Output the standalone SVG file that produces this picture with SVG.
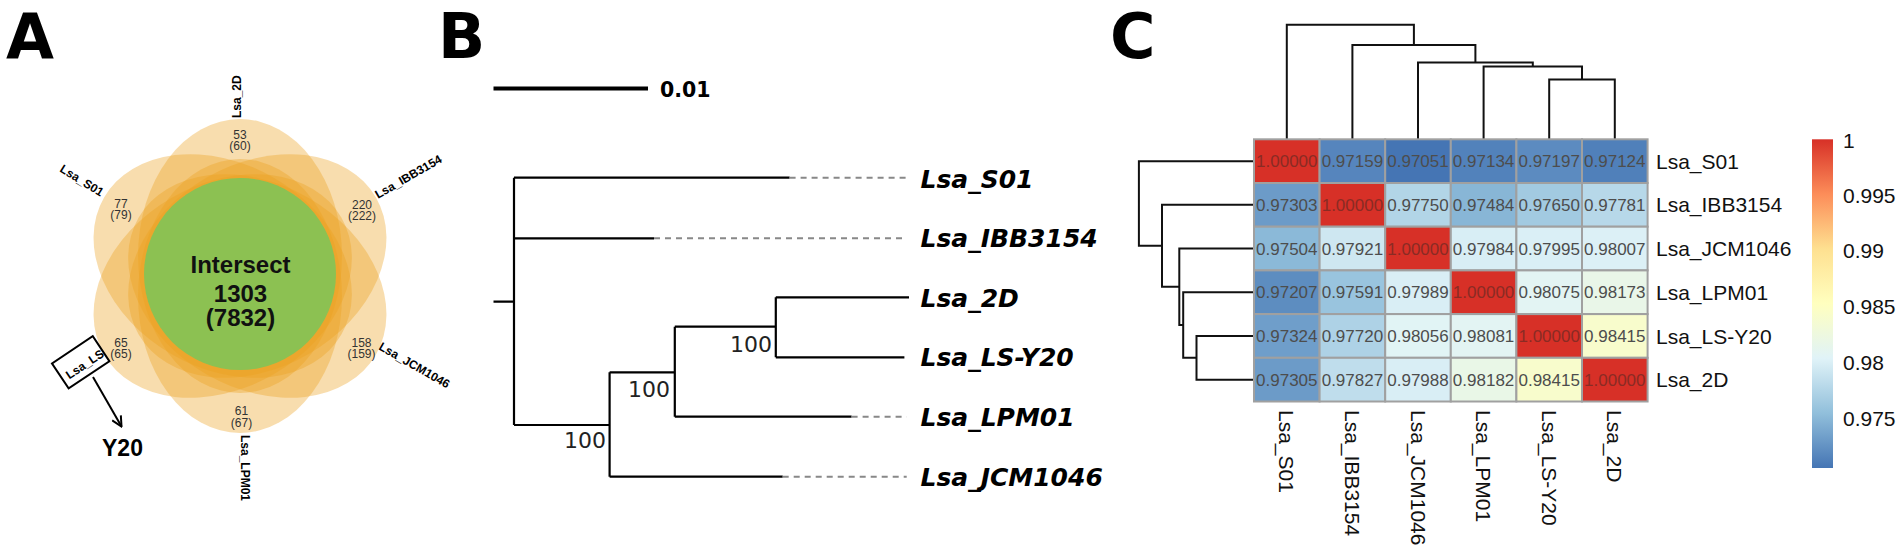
<svg xmlns="http://www.w3.org/2000/svg" width="1902" height="554" viewBox="0 0 1902 554">
<style>
.plabel{font-family:"DejaVu Sans","Open Sans",sans-serif;font-weight:700;font-size:62px;fill:#000}
.petal{fill:#ECA01E;fill-opacity:0.36}
.vnum{font-family:"Liberation Sans",Arial,sans-serif;font-size:12px;fill:#333;text-anchor:middle}
.vset{font-family:"Liberation Sans",Arial,sans-serif;font-size:12px;font-weight:700;fill:#000}
.vbig{font-family:"Liberation Sans",Arial,sans-serif;font-size:24px;font-weight:700;fill:#111;text-anchor:middle}
.tree{fill:none;stroke:#000;stroke-width:2.2}
.dash{fill:none;stroke:#888;stroke-width:2;stroke-dasharray:6 5}
.leaf{font-family:"DejaVu Sans",sans-serif;font-size:25px;font-weight:700;font-style:italic;fill:#000}
.boot{font-family:"DejaVu Sans",sans-serif;font-size:22px;fill:#222;text-anchor:end}
.cell{stroke:#A0A0A0;stroke-width:2}
.num{font-family:"Liberation Sans",Arial,sans-serif;font-size:17px;fill:#4d4d4d;text-anchor:middle}
.numr{fill:#8a2b24}
.lab{font-family:"Liberation Sans",Arial,sans-serif;font-size:21px;fill:#111}
.dendro{fill:none;stroke:#111;stroke-width:2}
</style>
<defs>
<marker id="openArrow" viewBox="0 0 12 12" refX="11" refY="6" markerWidth="12" markerHeight="12" markerUnits="userSpaceOnUse" orient="auto">
<path d="M1,1 L11,6 L1,11" fill="none" stroke="#000" stroke-width="2"/>
</marker>
<linearGradient id="cbar" x1="0" y1="0" x2="0" y2="1">
<stop offset="0" stop-color="#D73027"/>
<stop offset="0.1667" stop-color="#FC8D59"/>
<stop offset="0.3333" stop-color="#FEE090"/>
<stop offset="0.5" stop-color="#FFFFBF"/>
<stop offset="0.6667" stop-color="#E0F3F8"/>
<stop offset="0.8333" stop-color="#91BFDB"/>
<stop offset="1" stop-color="#4575B4"/>
</linearGradient>
</defs>
<rect x="0" y="0" width="1902" height="554" fill="#fff"/>

<!-- Panel labels -->
<text id="label-A" class="plabel" x="6" y="58">A</text>
<text id="label-B" class="plabel" x="438" y="58">B</text>
<text id="label-C" class="plabel" x="1110" y="58">C</text>

<!-- ===== Panel A: Venn ===== -->
<g id="venn">
<g id="petals">
<ellipse class="petal" cx="0" cy="0" rx="137" ry="102" transform="translate(240,256) rotate(-90)"/>
<ellipse class="petal" cx="0" cy="0" rx="137" ry="102" transform="translate(257.3,266) rotate(-30)"/>
<ellipse class="petal" cx="0" cy="0" rx="137" ry="102" transform="translate(257.3,286) rotate(30)"/>
<ellipse class="petal" cx="0" cy="0" rx="137" ry="102" transform="translate(240,296) rotate(90)"/>
<ellipse class="petal" cx="0" cy="0" rx="137" ry="102" transform="translate(222.7,286) rotate(150)"/>
<ellipse class="petal" cx="0" cy="0" rx="137" ry="102" transform="translate(222.7,266) rotate(210)"/>
</g>
<g id="intersect">
<circle cx="240" cy="274" r="96" fill="#8CC152"/>
<text class="vbig" x="240.5" y="273">Intersect</text>
<text class="vbig" x="240.5" y="302">1303</text>
<text class="vbig" x="240.5" y="326">(7832)</text>
</g>
<g id="set-2D">
<text class="vnum" x="240" y="139">53</text>
<text class="vnum" x="240" y="150">(60)</text>
<text class="vset" transform="translate(241,118) rotate(-90)">Lsa_2D</text>
</g>
<g id="set-IBB3154">
<text class="vnum" x="362" y="209">220</text>
<text class="vnum" x="362" y="220">(222)</text>
<text class="vset" transform="translate(378,199) rotate(-30)">Lsa_IBB3154</text>
</g>
<g id="set-JCM1046">
<text class="vnum" x="361.5" y="347">158</text>
<text class="vnum" x="361.5" y="358">(159)</text>
<text class="vset" transform="translate(378,349) rotate(30)">Lsa_JCM1046</text>
</g>
<g id="set-LPM01">
<text class="vnum" x="241.5" y="415">61</text>
<text class="vnum" x="241.5" y="427">(67)</text>
<text class="vset" transform="translate(241,435) rotate(90)">Lsa_LPM01</text>
</g>
<g id="set-S01">
<text class="vnum" x="121" y="208">77</text>
<text class="vnum" x="121" y="219">(79)</text>
<text class="vset" transform="translate(59,171) rotate(32)">Lsa_S01</text>
</g>
<g id="set-LS">
<text class="vnum" x="121" y="347">65</text>
<text class="vnum" x="121" y="358">(65)</text>
<g transform="translate(80.7,362.3) rotate(-33.7)">
<rect x="-24.5" y="-15" width="49" height="30" fill="#fff" stroke="#000" stroke-width="2"/>
<text class="vset" x="-19" y="8">Lsa_LS</text>
</g>
</g>
<g id="connectors-A">
<line x1="93" y1="377" x2="121.5" y2="426.5" stroke="#000" stroke-width="2" marker-end="url(#openArrow)"/>
</g>
<text id="Y20" x="102" y="456" font-family="Liberation Sans, Arial, sans-serif" font-size="23" font-weight="700" fill="#000">Y20</text>
</g>

<!-- ===== Panel B: tree ===== -->
<g id="tree">
<g id="scalebar">
<line x1="493.5" y1="88.5" x2="648" y2="88.5" stroke="#000" stroke-width="4"/>
<text x="660" y="97" font-family="DejaVu Sans, sans-serif" font-size="20.5" font-weight="700" fill="#000">0.01</text>
</g>
<g id="tree-branches">
<path class="tree" d="M493.5,301.7 H514 M514,177.7 V425 M514,177.7 H789.6 M514,238.3 H654 M514,425 H609.6 M609.6,372.3 V476.7 M609.6,476.7 H782.7 M609.6,372.3 H674.8 M674.8,326.7 V416.7 M674.8,416.7 H851.6 M674.8,326.7 H775.8 M775.8,297.3 V357.3 M775.8,297.3 H909 M775.8,357.3 H904.4"/>
<path class="dash" d="M789.6,177.7 H906.7 M654,238.3 H906.7 M782.7,476.7 H906.7 M851.6,416.7 H906.7"/>
</g>
<g id="bootstrap">
<text class="boot" x="772" y="352">100</text>
<text class="boot" x="670" y="397">100</text>
<text class="boot" x="606" y="448">100</text>
</g>
<g id="leaves">
<text class="leaf" x="920.5" y="188.3">Lsa_S01</text>
<text class="leaf" x="920.5" y="247.3">Lsa_IBB3154</text>
<text class="leaf" x="920.5" y="306.7">Lsa_2D</text>
<text class="leaf" x="920.5" y="366">Lsa_LS-Y20</text>
<text class="leaf" x="920.5" y="426">Lsa_LPM01</text>
<text class="leaf" x="920.5" y="485.7">Lsa_JCM1046</text>
</g>
</g>

<!-- ===== Panel C: heatmap ===== -->
<g id="heatmap">
<g id="dendro-top">
<path class="dendro" d="M1549.2,139.3 V79.5 H1614.8 V139.3 M1483.6,139.3 V66.4 H1582 V79.5 M1418,139.3 V62.5 H1532.8 V66.4 M1352.4,139.3 V45 H1475.4 V62.5 M1286.8,139.3 V24.7 H1413.9 V45"/>
</g>
<g id="dendro-left">
<path class="dendro" d="M1254,335.95 H1196.5 V379.65 H1254 M1254,292.25 H1183.2 V357.8 H1196.5 M1254,248.55 H1179.3 V325 H1183.2 M1254,204.85 H1162 V286.8 H1179.3 M1254,161.15 H1138.9 V245.8 H1162"/>
</g>
<g id="cells">
<rect class="cell" x="1254" y="139.3" width="65.6" height="43.7" fill="#D73027"/>
<rect class="cell" x="1319.6" y="139.3" width="65.6" height="43.7" fill="#5685BD"/>
<rect class="cell" x="1385.2" y="139.3" width="65.6" height="43.7" fill="#4575B4"/>
<rect class="cell" x="1450.8" y="139.3" width="65.6" height="43.7" fill="#5282BB"/>
<rect class="cell" x="1516.4" y="139.3" width="65.6" height="43.7" fill="#5C8BC0"/>
<rect class="cell" x="1582" y="139.3" width="65.6" height="43.7" fill="#5080BA"/>

<rect class="cell" x="1254" y="183" width="65.6" height="43.7" fill="#6C9BC8"/>
<rect class="cell" x="1319.6" y="183" width="65.6" height="43.7" fill="#D73027"/>
<rect class="cell" x="1385.2" y="183" width="65.6" height="43.7" fill="#B2D5E7"/>
<rect class="cell" x="1450.8" y="183" width="65.6" height="43.7" fill="#88B6D6"/>
<rect class="cell" x="1516.4" y="183" width="65.6" height="43.7" fill="#A2CAE1"/>
<rect class="cell" x="1582" y="183" width="65.6" height="43.7" fill="#B7D8E9"/>

<rect class="cell" x="1254" y="226.7" width="65.6" height="43.7" fill="#8BB9D8"/>
<rect class="cell" x="1319.6" y="226.7" width="65.6" height="43.7" fill="#CEE7F1"/>
<rect class="cell" x="1385.2" y="226.7" width="65.6" height="43.7" fill="#D73027"/>
<rect class="cell" x="1450.8" y="226.7" width="65.6" height="43.7" fill="#D8EEF5"/>
<rect class="cell" x="1516.4" y="226.7" width="65.6" height="43.7" fill="#DAEFF6"/>
<rect class="cell" x="1582" y="226.7" width="65.6" height="43.7" fill="#DCF0F6"/>

<rect class="cell" x="1254" y="270.4" width="65.6" height="43.7" fill="#5D8DC0"/>
<rect class="cell" x="1319.6" y="270.4" width="65.6" height="43.7" fill="#99C4DE"/>
<rect class="cell" x="1385.2" y="270.4" width="65.6" height="43.7" fill="#D9EEF5"/>
<rect class="cell" x="1450.8" y="270.4" width="65.6" height="43.7" fill="#D73027"/>
<rect class="cell" x="1516.4" y="270.4" width="65.6" height="43.7" fill="#E3F4F3"/>
<rect class="cell" x="1582" y="270.4" width="65.6" height="43.7" fill="#E9F6E8"/>

<rect class="cell" x="1254" y="314.1" width="65.6" height="43.7" fill="#6F9ECA"/>
<rect class="cell" x="1319.6" y="314.1" width="65.6" height="43.7" fill="#AED2E6"/>
<rect class="cell" x="1385.2" y="314.1" width="65.6" height="43.7" fill="#E1F4F5"/>
<rect class="cell" x="1450.8" y="314.1" width="65.6" height="43.7" fill="#E3F4F3"/>
<rect class="cell" x="1516.4" y="314.1" width="65.6" height="43.7" fill="#D73027"/>
<rect class="cell" x="1582" y="314.1" width="65.6" height="43.7" fill="#F8FCCC"/>

<rect class="cell" x="1254" y="357.8" width="65.6" height="43.7" fill="#6C9BC8"/>
<rect class="cell" x="1319.6" y="357.8" width="65.6" height="43.7" fill="#BFDDEC"/>
<rect class="cell" x="1385.2" y="357.8" width="65.6" height="43.7" fill="#D9EEF5"/>
<rect class="cell" x="1450.8" y="357.8" width="65.6" height="43.7" fill="#E9F7E7"/>
<rect class="cell" x="1516.4" y="357.8" width="65.6" height="43.7" fill="#F8FCCC"/>
<rect class="cell" x="1582" y="357.8" width="65.6" height="43.7" fill="#D73027"/>
</g>
<g id="cell-values">
<text class="num numr" x="1286.8" y="167.2">1.00000</text>
<text class="num" x="1352.4" y="167.2">0.97159</text>
<text class="num" x="1418" y="167.2">0.97051</text>
<text class="num" x="1483.6" y="167.2">0.97134</text>
<text class="num" x="1549.2" y="167.2">0.97197</text>
<text class="num" x="1614.8" y="167.2">0.97124</text>

<text class="num" x="1286.8" y="210.9">0.97303</text>
<text class="num numr" x="1352.4" y="210.9">1.00000</text>
<text class="num" x="1418" y="210.9">0.97750</text>
<text class="num" x="1483.6" y="210.9">0.97484</text>
<text class="num" x="1549.2" y="210.9">0.97650</text>
<text class="num" x="1614.8" y="210.9">0.97781</text>

<text class="num" x="1286.8" y="254.6">0.97504</text>
<text class="num" x="1352.4" y="254.6">0.97921</text>
<text class="num numr" x="1418" y="254.6">1.00000</text>
<text class="num" x="1483.6" y="254.6">0.97984</text>
<text class="num" x="1549.2" y="254.6">0.97995</text>
<text class="num" x="1614.8" y="254.6">0.98007</text>

<text class="num" x="1286.8" y="298.3">0.97207</text>
<text class="num" x="1352.4" y="298.3">0.97591</text>
<text class="num" x="1418" y="298.3">0.97989</text>
<text class="num numr" x="1483.6" y="298.3">1.00000</text>
<text class="num" x="1549.2" y="298.3">0.98075</text>
<text class="num" x="1614.8" y="298.3">0.98173</text>

<text class="num" x="1286.8" y="342">0.97324</text>
<text class="num" x="1352.4" y="342">0.97720</text>
<text class="num" x="1418" y="342">0.98056</text>
<text class="num" x="1483.6" y="342">0.98081</text>
<text class="num numr" x="1549.2" y="342">1.00000</text>
<text class="num" x="1614.8" y="342">0.98415</text>

<text class="num" x="1286.8" y="385.7">0.97305</text>
<text class="num" x="1352.4" y="385.7">0.97827</text>
<text class="num" x="1418" y="385.7">0.97988</text>
<text class="num" x="1483.6" y="385.7">0.98182</text>
<text class="num" x="1549.2" y="385.7">0.98415</text>
<text class="num numr" x="1614.8" y="385.7">1.00000</text>
</g>
<g id="row-labels">
<text class="lab" x="1656" y="168.7">Lsa_S01</text>
<text class="lab" x="1656" y="212.4">Lsa_IBB3154</text>
<text class="lab" x="1656" y="256.1">Lsa_JCM1046</text>
<text class="lab" x="1656" y="299.8">Lsa_LPM01</text>
<text class="lab" x="1656" y="343.5">Lsa_LS-Y20</text>
<text class="lab" x="1656" y="387.2">Lsa_2D</text>
</g>
<g id="col-labels">
<text class="lab" dominant-baseline="central" transform="translate(1286.8,410) rotate(90)">Lsa_S01</text>
<text class="lab" dominant-baseline="central" transform="translate(1352.4,410) rotate(90)">Lsa_IBB3154</text>
<text class="lab" dominant-baseline="central" transform="translate(1418,410) rotate(90)">Lsa_JCM1046</text>
<text class="lab" dominant-baseline="central" transform="translate(1483.6,410) rotate(90)">Lsa_LPM01</text>
<text class="lab" dominant-baseline="central" transform="translate(1549.2,410) rotate(90)">Lsa_LS-Y20</text>
<text class="lab" dominant-baseline="central" transform="translate(1614.8,410) rotate(90)">Lsa_2D</text>
</g>
<g id="legend">
<rect x="1812" y="139.3" width="21" height="328.7" fill="url(#cbar)"/>
<text class="lab" x="1843" y="147.5">1</text>
<text class="lab" x="1843" y="202.5">0.995</text>
<text class="lab" x="1843" y="258.3">0.99</text>
<text class="lab" x="1843" y="314">0.985</text>
<text class="lab" x="1843" y="369.7">0.98</text>
<text class="lab" x="1843" y="425.5">0.975</text>
</g>
</g>
</svg>
